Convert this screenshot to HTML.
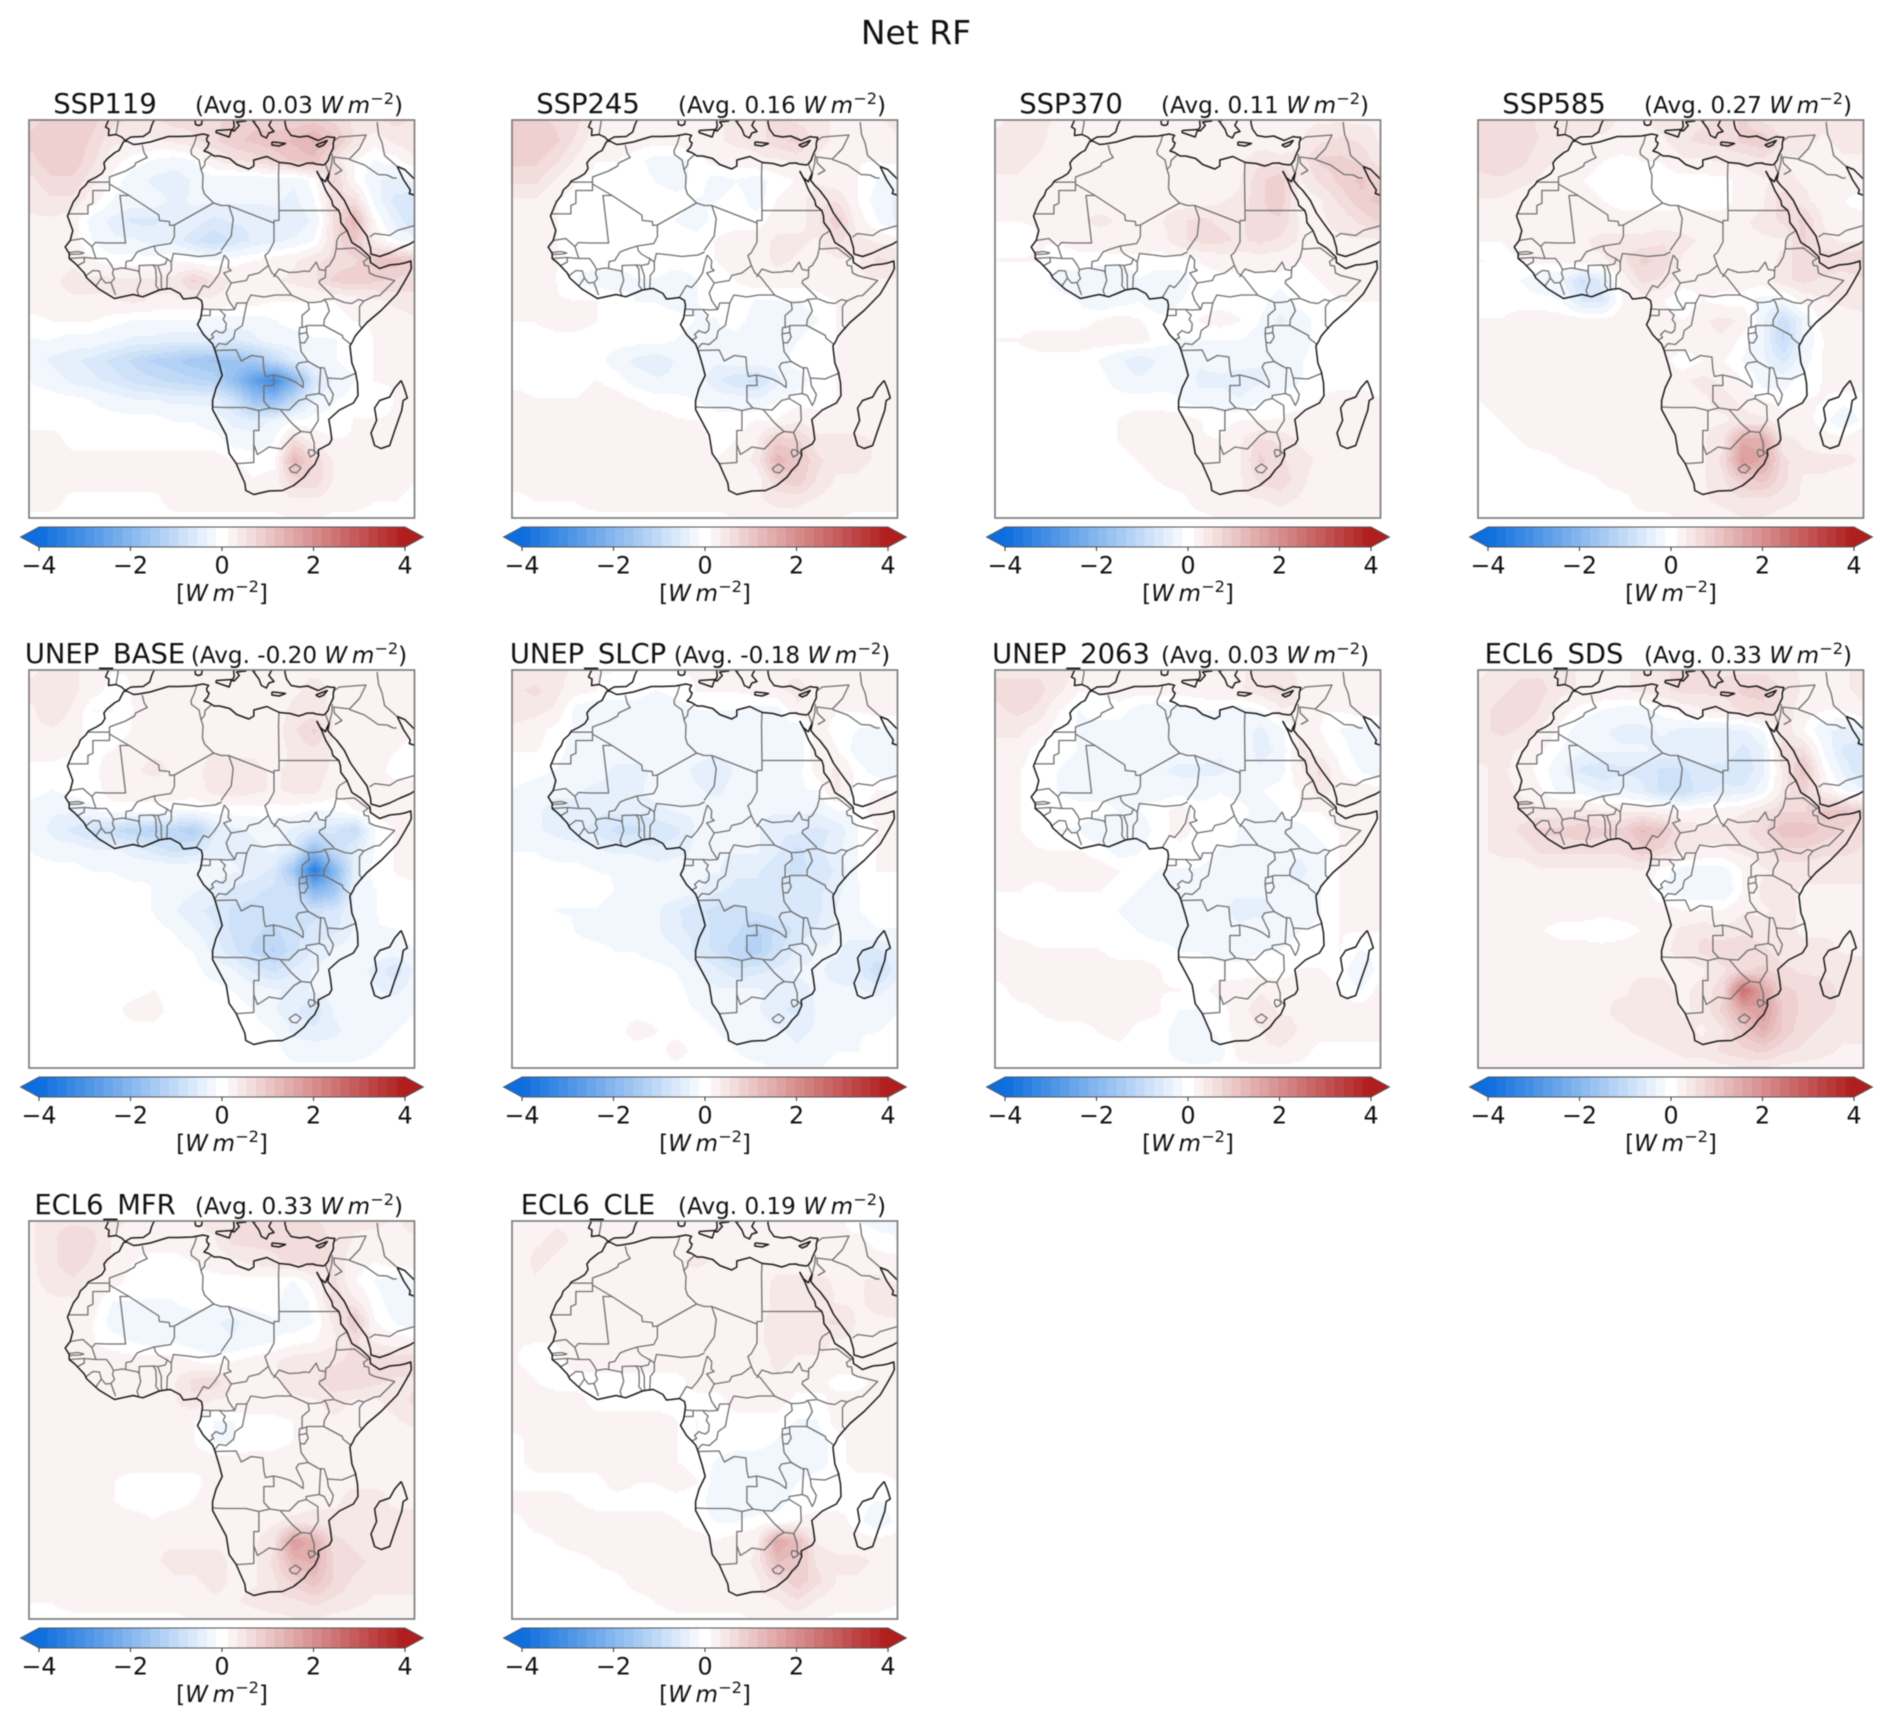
<!DOCTYPE html>
<html lang="en">
<head>
<meta charset="utf-8">
<title>Net RF</title>
<style>
html,body{margin:0;padding:0;background:#fff;}
#figure{display:block;width:1892px;height:1722px;filter:blur(0.45px);}
text{font-family:"DejaVu Sans","Liberation Sans",sans-serif;fill:#111;}
</style>
</head>
<body>
<svg id="figure" xmlns="http://www.w3.org/2000/svg" width="1892" height="1722" viewBox="0 0 1892 1722">
<rect x="0" y="0" width="1892" height="1722" fill="#fff"/>
<text x="916" y="44" font-size="33" text-anchor="middle">Net RF</text>
</svg>
<script>
/* Field grids: values in 0.1 W/m2. Columns = gridLons, rows = gridLats. */
const gridLons=[-24,-20,-16,-12,-8,-4,0,4,8,12,16,20,24,28,32,36,40,44,48,52];
const gridLats=[40,36,32,28,24,20,16,12,8,4,0,-4,-8,-12,-16,-20,-24,-28,-32,-36,-40];
const fieldSSP119=[
[7,8,9,8,6,5,5,6,6,7,8,9,8,8,9,7,5,5,6,5],
[8,9,9,7,4,3,3,4,5,7,9,10,11,12,14,10,5,2,4,5],
[7,9,9,6,2,0,-1,-2,-1,3,5,6,8,10,11,5,1,-1,0,3],
[5,7,7,4,0,-2,-4,-5,-3,-2,-3,-3,-2,-3,0,8,1,-3,-4,-3],
[4,5,5,2,-1,-2,-2,-4,-3,-3,-3,-3,-3,-4,-1,6,6,-2,-6,-7],
[3,3,2,-2,-4,-6,-6,-4,-4,-6,-5,-5,-4,-5,-3,6,13,1,-4,-8],
[2,2,2,-1,-3,-3,-4,-4,-7,-9,-7,-5,-4,-3,-1,6,10,3,-1,-2],
[2,2,3,1,0,0,0,1,0,-1,0,1,2,3,5,6,7,10,11,9],
[3,3,4,4,4,4,4,4,8,5,3,3,3,4,5,8,9,8,7,6],
[3,3,3,3,3,4,3,3,3,3,2,2,1,1,1,1,2,3,4,5],
[0,1,1,1,0,-1,-1,-1,-1,-2,-2,-2,-1,0,0,0,1,1,2,3],
[-1,-1,-2,-2,-3,-4,-4,-5,-5,-4,-6,-4,-2,-2,-1,-1,0,1,1,1],
[-2,-4,-5,-6,-8,-10,-12,-13,-15,-16,-16,-15,-10,-5,-2,-1,0,1,1,1],
[-1,-2,-4,-5,-6,-8,-9,-10,-11,-12,-18,-26,-32,-20,-7,-3,-1,1,1,1],
[0,0,0,-1,-2,-3,-3,-4,-4,-4,-8,-16,-18,-10,-3,-1,0,0,1,1],
[0,0,0,0,0,0,0,-1,-1,-2,-4,-5,-3,-1,0,0,1,1,1,1],
[2,2,0,0,0,0,0,0,0,0,-2,-2,-1,6,2,1,1,1,1,1],
[2,2,2,2,2,2,2,2,2,2,1,0,0,13,7,3,2,2,2,1],
[2,2,2,2,2,2,2,2,2,2,2,1,2,7,7,3,2,2,2,1],
[2,2,0,0,0,0,0,2,2,2,2,2,2,3,3,2,2,1,1,0],
[0,0,0,0,0,0,0,0,0,0,0,0,0,1,1,0,0,0,0,0]];
const fieldSSP245=[
[8,8,7,6,3,2,2,2,2,3,3,4,5,6,5,4,3,3,3,4],
[9,9,8,5,2,2,2,2,2,3,3,4,4,7,8,4,3,2,2,3],
[8,8,6,3,1,1,0,-2,-2,0,2,2,3,3,4,3,2,1,1,2],
[6,6,3,1,0,0,0,-1,-2,0,-2,-1,-2,0,1,3,2,1,-1,-3],
[3,3,1,0,0,0,0,0,0,-1,-1,0,-2,1,2,5,5,1,-2,-4],
[2,2,1,0,0,0,0,0,-1,-2,0,0,0,2,2,5,9,2,-1,-4],
[2,2,1,0,0,0,0,1,0,0,1,2,2,4,4,3,6,4,3,2],
[2,2,1,0,0,0,0,0,0,0,1,2,2,4,3,2,3,3,6,5],
[2,2,1,-1,-2,-2,-1,-1,-2,-1,0,1,2,2,2,2,3,3,3,3],
[2,2,1,1,1,0,-1,-1,-2,-1,0,0,-1,-1,-1,0,1,2,3,3],
[1,1,2,2,1,0,0,0,0,-1,-1,0,-2,-2,-2,-1,1,2,2,3],
[0,0,0,0,0,0,0,0,-1,-2,-1,-2,-2,-2,-1,0,1,2,2,2],
[0,0,0,0,0,-2,-4,-5,-3,-2,-3,-2,-2,-2,0,0,1,2,2,2],
[0,0,0,0,1,0,-2,-3,-3,-2,-5,-7,-8,-4,-2,0,1,2,2,2],
[2,1,1,1,2,2,1,0,0,-1,-2,-2,-3,-1,0,0,1,2,2,2],
[2,2,2,2,2,2,2,2,1,1,0,0,1,1,3,2,2,2,2,2],
[2,2,2,2,2,2,2,2,2,2,0,1,3,9,8,4,4,4,3,3],
[2,2,2,2,2,2,2,2,2,2,1,2,4,13,10,6,4,4,3,2],
[2,2,2,2,2,2,2,2,2,2,2,1,2,7,9,5,3,3,2,2],
[0,1,1,1,2,2,2,2,2,2,2,2,3,4,4,3,2,2,2,2],
[0,0,0,0,0,0,0,0,0,0,0,1,1,2,2,1,1,0,0,0]];
const fieldSSP370=[
[3,4,4,3,2,2,2,2,2,2,2,2,2,2,2,3,3,3,3,3],
[4,4,4,2,1,1,1,1,1,1,1,1,1,2,2,3,5,6,5,3],
[4,4,3,2,2,2,2,2,2,2,2,2,3,5,4,4,8,8,7,4],
[3,3,2,2,2,2,2,2,2,2,2,2,3,7,9,3,6,8,10,8],
[2,2,1,2,2,2,2,2,2,2,2,3,4,7,9,2,3,6,9,10],
[1,1,1,2,3,4,3,3,3,5,6,5,5,7,7,3,3,4,6,8],
[0,0,1,1,2,2,3,3,2,5,6,6,5,6,5,3,3,3,3,3],
[1,1,1,0,0,0,0,0,0,0,1,2,2,2,2,1,2,2,3,3],
[0,0,0,-2,-2,-3,-3,-1,-2,-2,0,0,0,0,0,0,1,2,2,2],
[0,0,0,0,-1,-3,-2,-1,-3,-1,0,0,0,0,-2,0,0,1,1,1],
[0,0,0,0,0,1,2,1,0,0,1,2,1,-1,-4,-2,0,0,0,0],
[1,1,2,2,2,2,2,2,0,-1,-1,-1,-1,-2,-2,-2,0,0,0,0],
[0,0,0,0,0,-1,-3,-5,-3,-2,-3,-2,-2,-3,-2,-1,0,0,0,0],
[0,0,0,0,0,0,-2,-3,-2,-1,-4,-4,-5,-4,-2,-1,0,0,0,0],
[0,0,0,0,0,0,0,0,0,-1,-2,-2,-3,-1,0,0,1,2,2,1],
[0,0,0,0,0,0,1,2,2,2,1,0,1,1,1,2,2,2,2,1],
[0,0,0,0,0,0,1,2,2,2,1,1,3,6,5,3,2,2,1,1],
[0,0,0,0,0,0,0,1,2,2,1,1,3,8,6,4,3,2,2,2],
[0,0,0,0,0,0,0,0,1,2,2,1,3,6,7,4,2,2,2,2],
[0,0,0,0,0,0,0,0,0,0,2,2,3,3,4,3,2,2,2,2],
[0,0,0,0,0,0,0,0,0,0,0,1,2,2,2,2,1,1,1,1]];
const fieldSSP585=[
[6,6,6,5,4,4,4,3,3,4,5,5,6,8,5,4,4,4,4,5],
[6,7,7,5,4,3,3,3,3,3,5,6,6,8,9,5,4,3,4,4],
[6,7,6,4,3,2,1,0,1,1,3,3,4,4,5,3,3,2,3,3],
[5,5,4,3,2,1,0,0,0,0,0,0,0,2,3,4,3,3,2,2],
[3,3,2,2,2,2,1,0,0,0,0,0,0,2,3,7,4,2,1,0],
[2,2,2,2,2,2,2,2,2,2,2,2,2,3,4,6,8,3,1,2],
[1,1,2,3,3,3,4,4,4,5,4,3,3,3,3,3,8,4,3,3],
[-1,0,1,2,2,3,3,5,8,7,3,2,2,2,2,4,7,7,7,8],
[0,0,-1,-3,-3,-8,-5,2,6,5,2,2,2,2,2,5,6,5,4,5],
[0,0,0,0,-1,-6,-6,1,2,1,-1,1,0,0,-2,-2,2,3,4,5],
[1,1,2,2,2,2,2,2,2,2,1,3,4,3,-3,-9,-3,2,2,2],
[2,2,2,2,2,2,2,2,2,3,3,3,3,0,-3,-10,-3,1,2,2],
[2,2,2,2,3,2,2,2,2,2,-1,1,1,-1,-3,-6,-2,1,2,2],
[2,2,2,2,2,3,3,2,2,2,3,4,3,1,-2,-2,0,1,2,2],
[1,2,2,2,2,3,3,3,2,2,2,3,4,3,1,0,1,1,0,0],
[0,1,2,2,2,2,3,3,3,2,2,3,3,4,4,2,2,0,-3,0],
[0,0,1,2,2,2,2,3,3,3,2,3,5,15,15,4,3,2,2,3],
[0,0,0,0,1,2,2,2,2,3,2,3,6,18,15,6,4,4,4,3],
[0,0,0,0,0,0,1,2,2,2,3,3,5,9,10,6,3,3,2,2],
[0,0,0,0,0,0,0,0,2,2,3,3,4,5,5,4,3,3,3,2],
[0,0,0,0,0,0,0,0,0,0,1,2,2,3,3,2,2,2,2,1]];
const fieldUNEPBase=[
[3,4,4,2,1,1,2,2,2,2,2,3,3,3,3,3,2,2,2,2],
[4,5,4,2,0,1,1,2,2,2,2,2,2,3,4,3,2,2,2,2],
[3,5,3,-1,-1,1,2,2,2,2,2,2,2,4,4,3,2,2,2,2],
[3,3,2,0,0,1,2,2,2,2,2,2,2,5,8,3,3,2,2,1],
[2,2,1,0,1,2,3,3,2,3,3,3,2,4,5,3,3,2,1,0],
[0,0,0,0,3,3,4,3,2,5,4,4,3,4,4,3,3,2,0,0],
[0,-1,0,0,2,2,2,3,2,4,5,4,3,4,4,2,2,2,2,2],
[-2,-3,-3,-1,0,0,0,-1,-1,0,0,0,0,0,-1,-1,1,2,2,3],
[-2,-4,-6,-8,-9,-11,-12,-11,-13,-6,-4,-3,-2,-4,-6,-7,-10,-1,1,2],
[-1,-2,-2,-3,-3,-4,-6,-8,-7,-4,-4,-4,-3,-6,-18,-10,-5,-1,1,2],
[0,0,0,-1,-1,-2,-1,-1,-1,-2,-3,-4,-6,-16,-36,-20,-5,0,1,2],
[0,0,0,0,0,0,-1,-2,-3,-4,-6,-7,-8,-8,-20,-16,-3,-1,0,0],
[0,0,0,0,0,0,-1,-3,-5,-6,-8,-8,-8,-8,-8,-7,-3,-1,0,0],
[0,0,0,0,0,0,0,-1,-3,-5,-8,-9,-10,-8,-7,-6,-3,-1,-1,0],
[0,0,0,0,0,0,0,0,-1,-4,-7,-10,-12,-8,-5,-3,-2,-2,-2,-1],
[0,0,0,0,0,0,0,0,0,-2,-3,-6,-8,-5,-3,-2,-2,-4,-7,-3],
[0,0,0,0,0,0,1,0,0,0,-1,-2,-3,-4,-3,-2,-2,-3,-4,-2],
[0,0,0,0,0,2,2,0,0,0,0,-1,-3,-5,-7,-3,-2,-2,-2,-1],
[0,0,0,0,0,0,0,0,0,0,0,0,-1,-4,-5,-4,-2,-2,-1,0],
[0,0,0,0,0,0,0,0,0,0,0,0,0,-2,-2,-2,-2,-1,0,0],
[0,0,0,0,0,0,0,0,0,0,0,0,0,0,0,0,0,0,0,0]];
const fieldUNEPSlcp=[
[4,4,4,3,1,1,1,1,1,1,1,2,3,3,3,2,2,2,3,3],
[5,6,4,2,1,0,0,-1,0,1,1,1,2,3,4,3,2,2,3,3],
[4,4,3,-2,-3,-2,-2,-3,-2,-1,-1,-1,-2,-2,3,2,1,1,2,2],
[3,2,0,-1,-2,-2,-3,-3,-3,-2,-2,-2,-3,-3,-3,2,0,-1,-2,-2],
[1,1,0,-2,-2,-2,-2,-2,-2,-2,-3,-2,-3,-3,-3,3,1,-2,-2,-3],
[0,0,-1,-2,-2,-4,-4,-3,-2,-4,-5,-3,-3,-3,-2,2,4,0,-2,-3],
[-1,-2,-3,-3,-4,-4,-4,-2,-2,-3,-4,-2,-2,-2,-1,-1,4,0,1,1],
[-2,-3,-4,-4,-5,-5,-5,-4,-3,-3,-2,-2,-3,-3,-3,-3,-1,0,2,3],
[-2,-3,-4,-5,-6,-8,-8,-7,-6,-3,-3,-3,-3,-5,-5,-6,-5,-1,1,2],
[-1,-1,-2,-2,-3,-4,-4,-5,-4,-3,-3,-3,-3,-5,-8,-6,-4,-1,1,2],
[0,0,0,0,-1,-1,-1,-2,-2,-3,-3,-5,-5,-7,-8,-7,-5,-1,1,1],
[0,0,0,0,0,-1,-1,-2,-2,-3,-5,-6,-6,-7,-6,-6,-4,-1,0,0],
[0,0,-1,-1,-1,-2,-3,-3,-5,-7,-8,-8,-7,-6,-6,-6,-3,-1,0,0],
[0,0,0,-1,-2,-2,-3,-3,-5,-6,-8,-9,-12,-9,-7,-5,-3,-2,-1,-1],
[0,0,0,0,0,-1,-1,-2,-3,-6,-8,-11,-13,-8,-5,-3,-3,-5,-6,-3],
[0,0,0,0,0,0,0,0,-1,-3,-5,-7,-6,-5,-3,-3,-4,-5,-9,-4],
[0,0,0,0,0,0,0,0,0,-2,-3,-3,-3,-4,-4,-3,-3,-3,-4,-2],
[0,0,0,0,0,0,0,0,0,-1,-2,-2,-3,-5,-6,-3,-2,-2,-2,-1],
[0,0,0,0,0,0,2,1,0,0,-1,-2,-2,-3,-4,-3,-2,-1,-1,0],
[0,0,0,0,0,0,0,0,2,0,0,-1,-2,-2,-3,-2,-1,-1,0,0],
[0,0,0,0,0,0,0,0,0,0,0,0,0,-1,-1,-1,0,0,0,0]];
const fieldUNEP2063=[
[5,5,5,5,3,2,2,2,2,2,2,3,3,4,4,3,3,3,3,3],
[6,6,6,4,1,1,2,2,2,2,2,3,3,5,6,3,2,2,3,3],
[5,6,5,1,-1,0,0,-2,-3,-2,-1,-1,-2,-1,3,3,1,1,2,2],
[4,4,2,0,-1,-2,-2,-3,-3,-2,-2,-2,-2,-4,-2,3,1,-1,-2,-3],
[2,2,0,0,-1,-2,-2,-2,-2,-2,-2,-3,-2,-4,-3,4,2,0,-2,-3],
[2,1,0,-1,-2,-3,-3,-3,-3,-4,-4,-4,-2,-3,-2,3,6,1,-1,-3],
[2,1,0,-1,-2,-2,-2,-1,-2,-2,-2,-1,-2,-1,0,1,5,2,2,2],
[2,1,0,0,0,0,-1,-1,0,2,0,0,0,-2,-1,1,1,2,3,3],
[2,1,0,-1,-1,-3,-3,-2,0,2,0,0,-1,-2,-2,-2,0,1,2,3],
[2,2,1,1,1,0,-2,-1,0,0,0,-1,-1,-2,-2,-3,-2,1,2,3],
[2,2,2,2,2,2,1,0,-1,-1,-1,-2,-3,-3,-3,-4,-2,1,2,2],
[1,1,0,1,1,1,0,-1,-2,-2,-2,-3,-3,-3,-3,-3,-1,1,2,2],
[0,0,0,0,0,0,-1,-2,-3,-2,-2,-3,-4,-4,-3,-3,-1,1,2,2],
[1,0,0,0,0,0,0,-1,-2,-2,-2,-2,-3,-2,-2,-1,0,1,1,1],
[2,2,1,1,1,1,0,0,0,-1,-1,-2,-2,-1,-1,0,0,1,-1,0],
[2,2,2,2,2,2,2,2,1,0,0,0,0,0,0,1,1,0,-3,0],
[0,2,2,2,2,2,2,2,1,1,0,2,2,3,2,2,2,1,-1,2],
[0,0,1,2,2,2,2,2,1,-1,-1,0,2,5,3,3,2,2,2,2],
[0,0,0,0,0,1,2,0,0,-2,-2,0,2,3,5,3,2,2,2,2],
[0,0,0,0,0,0,0,0,0,-2,-3,-2,2,3,3,2,0,0,0,0],
[0,0,0,0,0,0,0,0,0,0,0,0,0,0,0,0,0,0,0,0]];
const fieldECL6SDS=[
[3,4,5,5,4,3,3,3,4,5,6,6,5,5,5,4,3,3,3,4],
[4,5,6,6,4,3,3,3,4,5,6,6,6,8,8,5,3,3,3,4],
[5,6,7,5,2,0,-1,-2,-2,0,2,3,4,6,7,5,2,1,1,3],
[5,6,5,3,0,-2,-3,-4,-4,-3,-4,-4,-4,-4,-1,5,1,-3,-4,-3],
[4,4,3,1,-1,-3,-3,-3,-3,-4,-4,-4,-4,-6,-4,6,6,-1,-6,-7],
[3,4,2,0,-3,-6,-7,-6,-6,-8,-8,-6,-6,-7,-4,4,11,1,-4,-8],
[3,4,3,1,-2,-2,-4,-3,-5,-8,-9,-6,-5,-5,-2,4,8,3,-1,-3],
[3,4,4,4,4,4,3,3,3,2,1,2,2,3,5,7,7,10,10,8],
[3,4,6,8,8,9,8,8,12,10,5,4,4,5,7,11,11,9,7,6],
[3,4,4,6,6,6,6,6,9,7,4,3,3,4,5,7,7,6,6,5],
[2,2,2,3,3,3,3,3,3,0,-2,-2,-2,1,3,4,4,4,4,4],
[2,2,2,2,2,2,2,2,2,-1,-2,-3,-3,1,4,4,3,3,3,3],
[2,2,2,2,2,2,2,2,2,2,1,1,1,3,3,4,3,3,3,3],
[2,2,1,1,0,0,-1,0,1,2,4,5,4,5,4,4,3,3,3,3],
[2,2,2,2,2,2,2,2,3,3,4,6,7,7,6,4,4,4,3,3],
[2,2,2,2,2,2,3,3,3,3,2,3,5,7,8,6,5,5,5,4],
[2,2,2,2,3,3,3,3,4,4,3,4,7,26,16,8,7,6,5,4],
[2,2,2,2,2,3,3,4,4,5,3,4,8,15,18,9,7,6,5,4],
[2,2,2,2,2,2,3,3,4,5,4,3,5,10,14,9,6,5,4,4],
[2,2,2,2,2,2,2,2,2,3,4,4,6,7,8,6,5,4,3,3],
[1,1,1,1,1,1,1,1,1,1,2,2,2,3,3,2,2,2,2,2]];
const fieldECL6MFR=[
[3,5,5,5,4,3,3,3,3,4,5,6,6,6,6,4,4,4,3,4],
[3,5,7,6,3,2,2,2,3,3,6,6,6,7,7,5,3,2,3,3],
[3,5,7,5,3,1,0,0,1,2,3,4,5,6,7,5,2,1,2,2],
[3,4,5,3,2,0,0,0,0,0,0,0,0,-1,2,6,1,-1,-2,-1],
[3,3,3,2,-1,-1,-1,-1,0,0,0,0,0,-3,0,7,4,0,-2,-3],
[2,2,2,1,-2,-3,-3,-2,-2,-3,-4,-2,-1,-2,-1,4,10,1,-1,-3],
[2,2,2,1,0,-1,-2,-1,-2,-3,-3,-2,-1,0,1,3,6,3,2,2],
[2,2,2,2,2,2,2,2,1,0,1,2,3,5,5,5,6,7,7,7],
[2,2,3,3,3,3,2,3,6,7,3,3,3,4,5,7,7,6,5,5],
[2,3,3,3,3,3,3,3,5,3,3,3,3,3,3,4,3,3,4,6],
[2,2,2,2,2,2,2,2,1,-1,-1,0,0,1,3,3,3,3,3,4],
[2,2,2,2,2,2,2,2,1,-1,-1,0,0,1,3,3,2,2,2,2],
[2,2,2,2,2,2,2,2,2,2,2,2,2,2,3,3,2,2,2,2],
[2,2,2,2,1,0,0,0,0,2,2,2,2,3,3,3,3,3,3,3],
[2,2,2,2,1,0,0,0,1,2,3,3,1,2,3,3,4,4,3,3],
[2,2,2,2,2,2,1,2,2,2,2,2,3,4,4,4,4,4,4,4],
[2,2,2,2,2,2,3,3,3,3,3,3,5,18,14,6,5,4,5,5],
[2,2,2,2,2,2,3,4,4,4,3,3,6,13,14,7,6,5,5,5],
[2,2,2,2,2,2,2,3,3,4,3,3,5,8,11,7,5,4,4,4],
[1,1,2,2,2,2,2,2,2,3,3,4,5,5,6,5,4,3,3,3],
[0,0,0,0,0,0,0,0,1,1,2,2,2,3,3,2,2,1,1,1]];
const fieldECL6CLE=[
[2,2,3,3,2,2,2,2,2,2,2,2,2,2,2,2,2,-1,-2,-1],
[2,3,4,3,2,2,2,2,2,2,2,2,2,3,3,3,2,2,0,-1],
[2,4,3,2,2,2,2,2,3,4,3,2,2,2,2,2,3,2,2,2],
[2,3,2,2,2,2,2,2,2,2,2,2,2,4,4,4,3,3,4,3],
[2,2,2,2,2,2,2,2,2,2,2,2,2,4,4,5,3,3,4,5],
[1,1,2,2,2,2,2,2,2,2,3,3,3,4,4,5,6,3,3,3],
[1,1,1,2,2,2,2,2,2,2,2,3,3,4,4,4,3,3,2,2],
[1,0,0,2,2,2,2,2,2,2,2,2,2,4,3,3,3,3,2,2],
[2,1,0,0,0,0,0,0,0,2,2,2,2,3,2,2,0,0,2,3],
[2,2,2,2,0,0,0,0,0,0,0,2,2,2,0,0,2,2,2,3],
[2,2,2,2,2,2,2,2,1,-1,0,0,0,0,-1,-1,2,2,2,2],
[0,2,2,2,2,2,2,2,1,-1,0,0,0,-1,-2,-2,0,2,2,2],
[0,2,2,2,2,2,2,2,1,0,-1,-2,-2,-2,-2,-2,0,2,2,2],
[0,0,0,0,0,2,1,1,2,1,-2,-2,-2,-2,-1,0,0,0,0,1],
[2,2,2,1,0,0,0,0,0,0,-2,-2,-3,-2,0,0,0,0,-1,0],
[0,2,2,2,2,2,2,2,1,0,-1,-1,0,0,1,2,2,0,-3,0],
[0,0,1,2,2,2,2,2,2,2,1,2,3,16,12,3,2,2,2,2],
[0,0,0,0,1,2,2,2,2,2,1,2,4,12,10,5,4,4,3,2],
[0,0,0,0,0,0,2,2,2,2,2,2,3,6,9,6,3,3,2,2],
[0,0,0,0,0,0,0,1,2,2,2,2,3,3,5,3,2,2,2,1],
[0,0,0,0,0,0,0,0,0,0,0,0,1,2,2,1,0,0,0,0]];

const panelTitles=["SSP119","SSP245","SSP370","SSP585","UNEP_BASE","UNEP_SLCP","UNEP_2063","ECL6_SDS","ECL6_MFR","ECL6_CLE"];
const panelAverages=["0.03","0.16","0.11","0.27","-0.20","-0.18","0.03","0.33","0.33","0.19"];
const panelFields=[fieldSSP119,fieldSSP245,fieldSSP370,fieldSSP585,fieldUNEPBase,fieldUNEPSlcp,fieldUNEP2063,fieldECL6SDS,fieldECL6MFR,fieldECL6CLE];
const colorbarTicks=[-4,-2,0,2,4];

/* Geography in lon,lat degrees */
const coastlines=[
[-5.9,35.8,-5.3,35.9,-3.9,35.2,-2.9,35.3,-0.6,35.7,3,36.8,5.1,36.8,7.8,36.9,9.9,37.3,11,37.05,10.6,36.4,10.7,35.8,11.1,35.5,10.8,34.7,10.1,33.9,11,33.6,12.1,32.9,13.2,32.9,15.2,32.4,16.6,31.2,19,30.3,20,30.9,20,32.1,22.6,32.8,24,32.1,25.1,31.6,27.2,31.4,28.9,30.9,29.9,31.2,30.4,31.45,31.8,31.5,32.3,31.3,33.8,31.1,34.2,31.3,34.8,32.1,35,32.8,35.5,33.9,35.8,34.5,35.8,35.5,36.1,36.6,35,36.7,34.6,36.8,32.8,36,30.7,36.9,29.1,36.7,27.4,37,26.5,38.3,26.2,39.5,26.2,41],
[32.5,29.9,33.2,28.6,34.2,27.75,34.5,28.5,35,29.5,34.7,28,35.5,27,36.5,26,38,24,39.2,21.5,40.6,19.5,42.5,16.9,43.2,14.5,43.3,13.3,45,12.8,47,13.5,49.1,14.5,51,15.3,52.5,16.2],
[32.5,29.9,33.6,27.8,33.8,27.2,34.3,26,35.5,24,35.7,23,36.9,22,37.2,21,37.3,19.6,38.5,18,39.5,15.6,41.2,14.5,43.1,12.7,43.2,11.6,45,10.4,47,11.1,49,11.3,50,11.5,51.2,11.9,51.3,10.4,50.9,9.5,49.8,7.5,48.5,5.3,45.3,2,42.5,-0.4,40.9,-2.2,40.1,-3.2,39.7,-4.1,39.1,-5.1,39.3,-6.8,39.5,-8.5,40.2,-10.3,40.6,-12.5,40.7,-15,39.8,-16.5,37,-17.9,34.9,-19.8,35.2,-21.5,35.5,-23.8,35,-24.7,32.8,-25.9,32.9,-27,32.1,-28.8,31,-29.9,30,-31.3,27.9,-33,25.7,-34,23,-34.1,20,-34.8,18.4,-34,18.2,-32.5,17.3,-30.5,16.5,-28.6,15.1,-26.6,14.5,-22.9,13.4,-20.8,11.8,-17.8,11.8,-16,12.5,-13.5,13.7,-11,13.2,-9,12.3,-6,11.8,-4.7,10,-2.8,8.8,-0.8,9.4,0.4,9.6,1.5,9.8,3,9.6,4,8.6,4.6,7,4.4,6,4.3,5.3,5.4,3.4,6.4,2.4,6.3,1.2,6.1,-0.2,5.5,-2.1,4.75,-4,5.2,-7.7,4.4,-10.8,6.3,-13.2,8.5,-13.7,9.5,-15.6,11.5,-16.7,12.4,-16.7,13.4,-17.5,14.7,-16.5,16,-16,18,-16.5,19.4,-17.05,20.9,-15.9,23.7,-14.9,25,-14.5,26.1,-13.4,27.1,-12.9,27.9,-11.3,28.7,-10.2,29.4,-9.6,30.4,-9.8,31.5,-9.2,32.3,-7.6,33.6,-6.8,34,-6.2,35.2,-5.9,35.8],
[49.3,-12,49.9,-13.5,50.5,-15.5,49.7,-16,49.4,-18,48,-22,47,-25,45.3,-25.6,44,-25,43.3,-22.5,44.4,-20,44,-17.5,45,-16,47,-15.3,48,-13.5,49.3,-12],
[23.6,35.7,24.8,35.6,26.3,35.4,25,34.9,23.6,35.1,23.6,35.7],
[32.3,35.1,33.6,35.6,34.6,36,33.9,35.1,33,34.7,32.3,35.1],
[12.5,38,15.6,38.2,15.1,36.7,12.5,37.6,12.5,38],
[15.6,41,16,39.9,16.1,38.8,15.7,38,16.1,37.9,17.1,39,16.6,39.7,18.4,39.9,18.4,40.3,17,40.5,16,41.5],
[8.2,41,8.4,39.2,9,39,9.6,39.2,9.8,40.5,9.5,41],
[-5.6,36,-6.3,36.7,-7.4,37.2,-8.9,37,-8.8,38.3,-9.5,38.7,-8.8,40.3,-8.8,41],
[-5.6,36,-4.4,36.7,-2,36.8,-0.7,37.7,-0.3,39,0,39.7,0.8,41],
[19.4,41,19.4,40.4,20,39.7,21,38.3,21.5,37,22.5,36.5,23,37.5,24,37.8,23,39,23.5,40,24.5,40.9,26,41],
[48.5,30.8,49.8,28.1,51.1,26.1,50.9,25.4,51.5,25.2,51.8,25.1,52.5,24.5],
[48.5,30.8,50,30.2,51.8,28.4,52.5,27.9]
];
const borderLines=[
[-2.2,35.1,-1.8,33.5,-1.2,32.6,-3.5,31.5,-3.7,30.9,-5.5,29.9,-8.7,28.7,-8.7,27.67],
[-13.2,27.67,-8.7,27.67,-8.7,26,-12,26,-12,23.45,-13,23,-13,21.33,-16.95,21.33],
[-8.7,27.3,-4.8,25,1.1,21.1,1.2,20,3.2,19.8,3.3,19,4.2,19.1],
[-4.8,25,-6.6,25,-5.5,15.5,-9.3,15.5,-11.5,15.6,-12.2,14.8,-14,16.4,-16.5,16],
[8.6,36.9,8.2,35.5,7.5,34,7.6,33.2,9.1,32.1,9.5,30.2],
[11.5,33.1,10.3,32,10.2,31,9.5,30.2,9.9,29,9.8,26.5,10.2,25.3,12,23.5,4.2,19.1],
[12,23.5,13.5,23,15,23,24,19.5],
[25,31.6,24.9,29.2,25,22,25,20,24,20,24,19.5,24,15.7,22.9,13.6,22.2,13,22.9,11,23.6,9.5,24.7,8.7,27.5,5.1],
[25,22,36.9,22],
[15,23,15.9,20.4,15.5,16.9,13.5,14],
[4.2,19.1,4.2,16.8,3.5,15.4,0.2,14.9,0.4,14,1,13.3,2.2,12.6,2.8,12.3,3.6,11.7,4,13.4,6.8,13.1,9,12.8,12.3,13.1,13.6,13.7],
[14.1,13.1,15,12,14.9,10.5,15.5,10,14,9.5,15.5,7.5,14.5,5.5,15,4,16.2,2.2],
[14.1,13.1,13.5,10.9,13.2,9.5,12.2,8,11,6.6,10,7,8.8,5,8.6,4.6],
[15.5,7.5,18.5,8,19,9,21,9.5,22.9,11],
[16.2,2.2,14.5,2.1,13.3,2.2,11.3,2.2,9.8,2.3],
[11.3,2.2,11.3,1,9.6,1],
[13.2,2.2,13.9,1.4,14.3,1.1,13.9,0.2,14.5,-0.6,14.4,-1.9,13.8,-2.5,13,-2.3,12.5,-2,11.6,-2.8,12,-3.4,11.1,-3.9],
[16.2,2.2,16.6,3.5,18.6,3.5,19.4,5.1,22,4.7,24.3,5.1,27.4,5.1,29,4.4,30.8,3.6,32,3.6,33.5,3.8,34,4.2],
[18.6,3.5,17.7,-1,16.3,-2,16,-3.5,14.5,-4.8,13.1,-4.6,12.7,-5,12.2,-5.7],
[12.3,-6,16.5,-5.9,17.5,-8.1,19.5,-7,21.8,-7.3,22,-9.8,22.3,-11.2,23.9,-10.9,24,-13,22,-13,22,-16.2,23.2,-17.5],
[23.9,-10.9,25.3,-11.2,27,-11.7,28.4,-12.4,29.8,-13.4,29.8,-12.2,28.4,-9.3,28.9,-8.5,30.8,-8.2,29.4,-6.2,29.2,-4.4,29,-2.8,29.1,-1.4,29.6,-1.4,29.6,1,31,2.2,30.8,3.6],
[29,-2.7,30.5,-2.4,30.5,-1.1,29.6,-1.4],
[29.2,-4.4,30.1,-4.5,30.8,-3.3,30.5,-2.4],
[30.5,-1,33.9,-1,37.6,-3,37.7,-3.5,39.2,-4.7],
[33.9,-1,34,0.2,35,1.9,34.5,3.5,34,4.2,36,4.4,38,3.6,39.5,3.4,40.8,4.2,41.9,3.9,41,2.8,41,-0.9,41.6,-1.7],
[41.9,3.9,44,4.9,45,5,48,8,44,9,43,9.5,42.8,10.9,42,11,41.8,11.8,42.7,12.4,43.1,12.6],
[42.7,12.4,40,14.5,38.4,14.4,37,14.3,36.4,14.4,36.5,16,37,17,38.6,18],
[36.4,14.4,36,12.7,35,11,34.3,10.6,34.2,8.6,33.1,8,33,7.5,35,5.5,35.9,4.6],
[23.9,8.7,25,10.3,27,9.6,29,9.7,30,9.9,31,9.8,32.4,11.7,33,10.2,34.2,10],
[-12.2,14.8,-11.4,12.4,-13.7,12.6,-16.7,12.4],
[-13.7,12.6,-13.7,11.7,-15,11],
[-16.8,13.6,-15,13.8,-13.8,13.5,-14.5,13.3,-16.8,13.2],
[-11.4,12.4,-9.3,12.4,-8.7,11.6,-8.3,11,-7.9,10.2,-8.1,9.4,-7.7,8.4,-8.4,7.6,-7.5,5.1],
[-13.3,9,-12,10,-10.7,9.9,-10.3,8.5,-11.4,6.9],
[-10.3,8.5,-9.5,7.5,-8.4,7.6],
[-7.9,10.2,-6.2,10.5,-5.5,10.4,-5.4,11.8,-4.3,12,-3.2,13.7,-2,14.2,0.2,14.9],
[-5.5,10.4,-3,9.9,-2.8,9.5,-2.8,11,0,11.1,0.9,11,2.4,11.3,2.8,12.3],
[-2.8,9.5,-2.5,8,-3.2,6,-2.9,5],
[0,11.1,0.5,10.3,0.6,8,0.5,7,1.2,6.1],
[0.9,11,1.6,9,1.6,6.9,1.7,6.2],
[3.6,11.7,3.6,10,2.8,9,2.7,6.4],
[11.8,-17.3,14,-17.4,18.4,-17.4,21,-18,23.2,-17.5,25.2,-17.8,27,-17.9,28.9,-16,30.4,-15.6],
[21,-18,21,-22,20,-22,20,-24.8,20,-28.4,17,-28.6,16.5,-28.6],
[20,-24.8,20.7,-26.8,22,-26,23,-25.3,25.5,-25.7,26.8,-24.3,28,-23,29.4,-22.2,31.3,-22.4],
[25.2,-17.8,26,-18.7,27.5,-20.5,29.4,-22.2],
[31.3,-22.4,32.8,-20,32.7,-17,30.4,-15.6,30.4,-15,33,-14.6],
[33,-9.4,34,-9.5,34.6,-11.5,34.8,-13,35.8,-14.8,35.5,-16,35,-17,34,-15,33,-14.6,33.2,-11,33.3,-9.7,33,-9.4],
[30.8,-8.2,32.9,-9.4],
[34.6,-11.5,37.5,-11.7,40.4,-10.5],
[31.3,-22.4,32,-24.5,32,-26,32.9,-26.9],
[31,-25.8,32,-26,32.1,-26.8,31.2,-27.3,30.8,-26.4,31,-25.8],
[27,-29.6,28.3,-28.7,29.4,-29.5,28.5,-30.5,27.5,-30.3,27,-29.6],
[34.2,31.3,34.9,29.5],
[35,29.5,35.5,31.5,35.6,33.3],
[36.1,29.2,37.5,30,36,31.5,35.9,32.7,39,32.3],
[39,32.2,42,31.1,44.7,29.2,46.5,29.1,47.7,28.5,48.4,28.5],
[39,32.3,41,34.4,42.3,37.1,37,36.7,36,36],
[48.5,30.8,46,33,45.5,35.5,44.8,37.2,44.5,39.7],
[43,16.7,44,17.4,47,17,48.5,18,52,19],
[-7.4,37.2,-7,39.5,-7,41],
[20,39.7,21,40.5,21,41]
];

/* Layout */
const SVGNS="http://www.w3.org/2000/svg";
const figure=document.getElementById("figure");
const panelLefts=[28.5,511.7,994.7,1478];
const panelTops=[119.5,669.7,1220.5];
const AXW=385.5,AXH=398,GRIDW=386,PXLON=5.03,PXLAT=5.0,LON0=-24.7,LAT0=40.1,CELL=2;
const BLUE=[14,110,222],RED=[176,30,30];

function node(tag,attrs,parent){
  const e=document.createElementNS(SVGNS,tag);
  for(const k in attrs)e.setAttribute(k,attrs[k]);
  (parent||figure).appendChild(e);
  return e;
}
function xOfLon(lon){return (lon-LON0)*PXLON;}
function yOfLat(lat){return (LAT0-lat)*PXLAT;}
function sampleField(field,lon,lat){
  const fx=Math.max(0,Math.min(gridLons.length-1.001,(lon-gridLons[0])/(gridLons[1]-gridLons[0])));
  const fy=Math.max(0,Math.min(gridLats.length-1.001,(gridLats[0]-lat)/(gridLats[0]-gridLats[1])));
  const i=Math.floor(fx),j=Math.floor(fy),u=fx-i,v=fy-j;
  const a=field[j][i]||0,b=field[j][i+1]||0,c=field[j+1][i]||0,d=field[j+1][i+1]||0;
  return ((a*(1-u)+b*u)*(1-v)+(c*(1-u)+d*u)*v)/10;
}
function bandOf(v){
  const m=Math.abs(v);
  if(m<0.09)return 0;
  const k=Math.max(1,Math.min(20,Math.ceil((m-0.128)/0.205)));
  return v<0?-k:k;
}
function bandColor(k){
  const t=Math.min(1,Math.abs(k)*0.205/3.95),c=k<0?BLUE:RED;
  return "rgb("+[0,1,2].map(i=>Math.round(255+(c[i]-255)*t)).join(",")+")";
}
function linePath(pts){
  let d="";
  for(let i=0;i<pts.length;i+=2)d+=(i?"L":"M")+xOfLon(pts[i]).toFixed(1)+" "+yOfLat(pts[i+1]).toFixed(1);
  return d;
}
function unitText(parent){
  const a=node("tspan",{"font-style":"italic"},parent);a.textContent="W\u2009m";
  const s=node("tspan",{dy:"-9","font-size":"0.7em"},parent);s.textContent="\u22122";
}

panelTitles.forEach(function(title,idx){
  const left=panelLefts[idx%4],top=panelTops[Math.floor(idx/4)];
  const slug=title.toLowerCase().replace(/_/g,"-");
  const g=node("g",{transform:"translate("+Math.round(left)+" "+Math.round(top)+")"});
  
  

  const t=node("text",{x:76,y:-7,"font-size":27.4,"text-anchor":"middle"},g);
  t.textContent=title;
  
  

  const avg=node("text",{x:270,y:-7,"font-size":23.1,"text-anchor":"middle"},g);
  
  
  const p0=node("tspan",{},avg);p0.textContent="(Avg. "+panelAverages[idx]+" ";
  unitText(avg);
  const p1=node("tspan",{dy:"9"},avg);p1.textContent=")";

  const clipId="clip"+idx;
  const cp=node("clipPath",{id:clipId},g);
  node("rect",{x:0,y:0,width:AXW,height:AXH},cp);

  const map=node("g",{"clip-path":"url(#"+clipId+")"},g);
  
  

  /* contour bands from the field array */
  const field=panelFields[idx],bands={};
  for(let py=0;py<AXH;py+=CELL){
    let runStart=0,cur=null;
    for(let px=0;px<=GRIDW;px+=CELL){
      const k=px<GRIDW?bandOf(sampleField(field,LON0+(px+CELL/2)/PXLON,LAT0-(py+CELL/2)/PXLAT)):null;
      if(k!==cur){
        if(cur){bands[cur]=(bands[cur]||"")+"M"+runStart+" "+py+"h"+(px-runStart)+"v"+CELL+"h"+(runStart-px)+"z";}
        cur=k;runStart=px;
      }
    }
  }
  Object.keys(bands).forEach(function(key){
    const b=node("path",{d:bands[key],fill:bandColor(+key),"shape-rendering":"crispEdges"},map);
    
    
  });

  const bg=node("g",{fill:"none",stroke:"#6f6f6f","stroke-width":1.3,"stroke-linejoin":"round"},map);
  
  
  borderLines.forEach(function(l){node("path",{d:linePath(l)},bg);});
  const cg=node("g",{fill:"none",stroke:"#1a1a1a","stroke-width":1.5,"stroke-linejoin":"round"},map);
  
  
  coastlines.forEach(function(l){node("path",{d:linePath(l)},cg);});

  const frame=node("rect",{x:0,y:0,width:AXW,height:AXH,fill:"none",stroke:"#777","stroke-width":1.6},g);
  
  

  /* colorbar */
  const cb=node("g",{transform:"translate(0 "+(AXH+9)+")"},g);
  
  
  const cbL=10,cbR=376,cbH=20,pxPerUnit=(cbR-cbL)/8;
  function xOfVal(v){return cbL+(v+4)*pxPerUnit;}
  node("path",{d:"M"+cbL+" 0L-8.5 "+cbH/2+"L"+cbL+" "+cbH+"z",fill:bandColor(-20)},cb);
  node("path",{d:"M"+cbR+" 0L394.5 "+cbH/2+"L"+cbR+" "+cbH+"z",fill:bandColor(20)},cb);
  for(let k=-19;k<=19;k++){
    const m0=k===0?-0.128:(k>0?0.128+(k-1)*0.205:-(0.128+(-k)*0.205));
    const m1=k===0?0.128:(k>0?0.128+k*0.205:-(0.128+(-k-1)*0.205));
    const x0=Math.max(cbL,xOfVal(m0)),x1=Math.min(cbR,xOfVal(m1));
    if(x1>x0)node("rect",{x:x0.toFixed(2),y:0,width:(x1-x0+0.4).toFixed(2),height:cbH,fill:bandColor(k)},cb);
  }
  node("rect",{x:cbR-3,y:0,width:3.4,height:cbH,fill:bandColor(20)},cb);
  const ol=node("path",{d:"M"+cbL+" 0L-8.5 "+cbH/2+"L"+cbL+" "+cbH+"L"+cbR+" "+cbH+"L394.5 "+cbH/2+"L"+cbR+" 0z",fill:"none",stroke:"#555","stroke-width":0.9},cb);
  
  
  colorbarTicks.forEach(function(v){
    const x=xOfVal(v);
    node("line",{x1:x,x2:x,y1:cbH,y2:cbH+4,stroke:"#333","stroke-width":1},cb);
    const lab=node("text",{x:x,y:46.5,"font-size":23.7,"text-anchor":"middle"},cb);
    lab.textContent=(v<0?"\u2212":"")+Math.abs(v);
    
    
  });
  const ul=node("text",{x:193,y:74,"font-size":23.1,"text-anchor":"middle"},cb);
  
  
  const u0=node("tspan",{},ul);u0.textContent="[";
  unitText(ul);
  const u1=node("tspan",{dy:"9"},ul);u1.textContent="]";
});
</script>
</body>
</html>
